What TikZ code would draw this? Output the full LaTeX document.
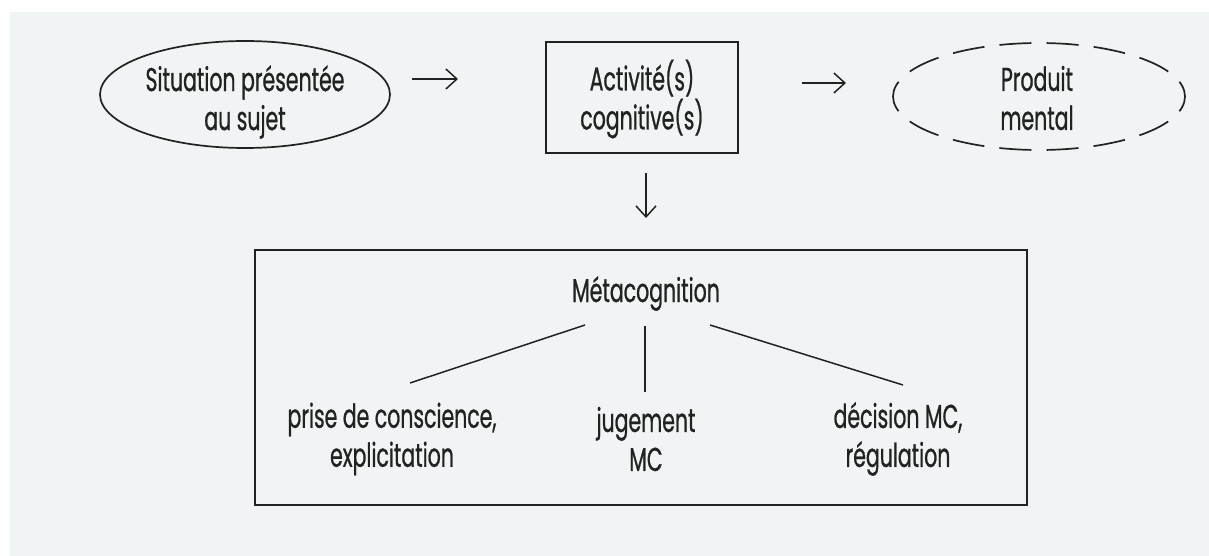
\documentclass[tikz,border=0pt]{standalone}
\usepackage{fontspec}
\setmainfont{Poppins}[FakeStretch=0.62,FakeBold=0.7]
\usetikzlibrary{arrows.meta,shapes.geometric}
\definecolor{bg}{HTML}{F1F4F4}
\definecolor{ink}{HTML}{222222}
\tikzset{
  lbl/.style={font=\fontsize{33}{39}\selectfont, align=center, text=ink, inner sep=0pt},
  shp/.style={draw=ink, line width=1.7pt, inner sep=0pt},
  glyarrow/.style={draw=ink, line width=1.5pt, -{Straight Barb[length=11pt,width=20pt,line width=1.5pt]}},
  branch/.style={draw=ink, line width=1.5pt}
}
\begin{document}
\begin{tikzpicture}[x=1pt,y=-1pt]
\useasboundingbox (0,0) rectangle (1209,556);
\fill[white] (0,0) rectangle (1209,556);
\fill[bg] (10,12) rectangle (1209,556);

% top row
\node[shp, ellipse, minimum width=290pt, minimum height=107pt] (sit) at (245,94.5) {};
\node[lbl] (sitT) at (245,102) {Situation présentée\\au sujet};

\node[shp, rectangle, minimum width=192pt, minimum height=111pt] (act) at (642,97.5) {};
\node[lbl] (actT) at (642,99) {Activité(s)\\cognitive(s)};

\node[shp, ellipse, dash pattern=on 32pt off 15.2pt, dash phase=16pt, minimum width=292pt, minimum height=107pt] (prod) at (1039,96.5) {};
\node[lbl] (prodT) at (1037,98) {Produit\\mental};

\coordinate (a1s) at (412,79);
\coordinate (a1e) at (458,79);
\draw[glyarrow] (a1s) -- (a1e);
\coordinate (a2s) at (802,83);
\coordinate (a2e) at (846,83);
\draw[glyarrow] (a2s) -- (a2e);
\coordinate (a3s) at (646,173);
\coordinate (a3e) at (646,218);
\draw[glyarrow] (a3s) -- (a3e);

% metacognition box
\node[shp, rectangle, minimum width=772pt, minimum height=255pt] (meta) at (641,377.5) {};
\node[lbl, anchor=base] (metaT) at (646,302) {Métacognition};

\node[lbl] (prise) at (392,439) {prise de conscience,\\explicitation};
\node[lbl] (jug) at (646,439) {jugement\\MC};
\node[lbl] (dec) at (898,439) {décision MC,\\régulation};

\coordinate (b1s) at (585,325);
\coordinate (b1e) at (410,383);
\coordinate (b2s) at (645,326);
\coordinate (b2e) at (645,392);
\coordinate (b3s) at (710,325);
\coordinate (b3e) at (903,385);
\draw[branch] (b1s) -- (b1e);
\draw[branch] (b2s) -- (b2e);
\draw[branch] (b3s) -- (b3e);
\end{tikzpicture}
\end{document}
